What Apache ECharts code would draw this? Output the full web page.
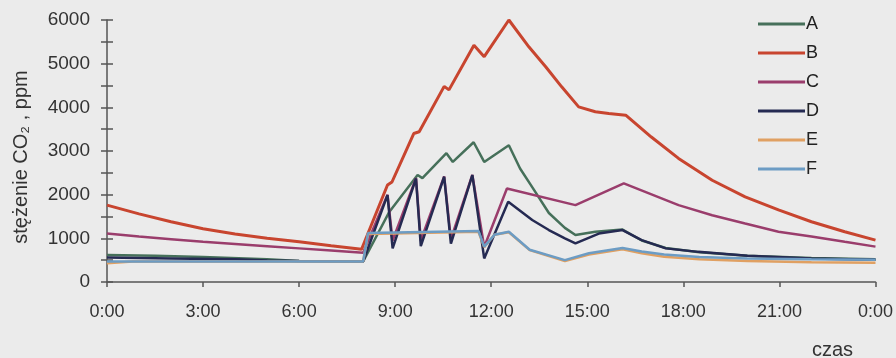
<!DOCTYPE html>
<html><head><meta charset="utf-8">
<script src="https://cdn.jsdelivr.net/npm/echarts@6/dist/echarts.min.js"></script>
<style>html,body{margin:0;padding:0;background:#ebebeb}#c{width:896px;height:358px}</style>
</head><body><div id="c"></div>
<script>
const seriesNames = ['A','B','C','D','E','F'];
const xTickLabels = ['0:00','3:00','6:00','9:00','12:00','15:00','18:00','21:00','0:00'];
const yTickValues = [0,1000,2000,3000,4000,5000,6000];
// [hour, ppm]
const A = [[0,620],[1.5,600],[3,570],[5,520],[6,480],[8,470],[8.82,1610],[9.7,2450],[9.85,2380],[10.6,2950],[10.8,2750],[11.45,3200],[11.78,2750],[12.55,3130],[12.9,2600],[13.3,2150],[13.8,1580],[14.3,1240],[14.63,1075],[15.25,1150],[16.1,1200],[16.7,950],[17.45,780],[18.5,680],[20,600],[22,550],[24,520]];
const B = [[0,1760],[1,1560],[2,1380],[3,1220],[4,1100],[5,1000],[6,920],[7,830],[7.95,750],[8.76,2220],[8.9,2290],[9.58,3400],[9.75,3440],[10.53,4480],[10.68,4400],[11.46,5420],[11.78,5160],[12.55,6000],[13.18,5380],[13.7,4930],[14.2,4470],[14.73,4010],[15.25,3900],[15.67,3860],[16.2,3820],[17.0,3320],[17.85,2830],[18.9,2330],[19.93,1950],[20.97,1650],[22,1380],[23.04,1150],[24,960]];
const C = [[0,1110],[1,1040],[2,980],[3,920],[4,870],[5,820],[6,770],[7,720],[8,670],[8.76,2000],[8.92,950],[9.65,2380],[9.8,950],[10.53,2420],[10.74,980],[11.41,2450],[11.78,800],[12.49,2140],[14.63,1760],[16.14,2260],[17.85,1760],[18.9,1530],[19.93,1340],[20.97,1150],[22,1040],[23.04,920],[24,810]];
const D = [[0,560],[2,540],[4,520],[5,490],[6,480],[8,470],[8.76,1990],[8.92,770],[9.65,2370],[9.8,820],[10.53,2410],[10.74,880],[11.41,2450],[11.78,540],[12.53,1840],[13.28,1420],[13.8,1190],[14.3,1000],[14.63,885],[15.36,1110],[16.1,1190],[16.7,960],[17.45,770],[18.47,690],[20,600],[22,540],[24,510]];
const E = [[0,430],[0.8,470],[8,470],[8.15,1100],[11.6,1150],[11.78,800],[12.1,1080],[12.55,1140],[13.2,730],[14.3,480],[15.05,630],[16.1,750],[16.7,660],[17.4,580],[18.5,520],[20,480],[22,450],[24,440]];
const F = [[0,470],[8,470],[8.15,1120],[11.6,1170],[11.78,810],[12.1,1080],[12.55,1150],[13.2,740],[14.3,500],[15.05,660],[16.1,780],[16.7,700],[17.4,630],[18.5,570],[20,540],[22,520],[24,510]];

const data = [A,B,C,D,E,F];
const colors = ['#46705a','#c8452f','#9a3d6c','#252a52','#e0a062','#6c9cc4'];
const widths = [2.5,3,2.5,2.5,2.5,2.5];

const chart = echarts.init(document.getElementById('c'), null, {renderer:'canvas'});
const font = 'Arial, "Liberation Sans", sans-serif';
chart.setOption({
  backgroundColor:'#ebebeb',
  animation:false,
  grid:{left:107,right:19,top:20,bottom:76},
  legend:{
    orient:'vertical', left:753, top:10, itemWidth:47, itemHeight:3, itemGap:11,
    icon:'rect',
    textStyle:{fontSize:18,fontFamily:font,color:'#222',padding:[0,0,0,-4]},
    data:seriesNames
  },
  xAxis:{
    type:'value', min:0, max:24, interval:3,
    axisLine:{lineStyle:{color:'#555',width:1.5}},
    axisTick:{show:true,length:5,lineStyle:{color:'#555',width:1.5}},
    splitLine:{show:false},
    axisLabel:{margin:21,fontSize:18,fontFamily:font,color:'#333',
      formatter:(v)=>xTickLabels[Math.round(v/3)]}
  },
  yAxis:[{
    type:'value', min:0, max:6000, interval:1000,
    name:'stężenie CO₂ , ppm', nameLocation:'middle', nameGap:76, nameRotate:90,
    nameTextStyle:{fontSize:20,fontFamily:font,color:'#333',padding:[0,12,0,0]},
    axisLine:{show:true,lineStyle:{color:'#555',width:1.5}},
    axisTick:{show:true,length:6,lineStyle:{color:'#555',width:1.5}},
    minorTick:{show:true,splitNumber:2,length:6,lineStyle:{color:'#555',width:1.5}},
    splitLine:{show:false},
    axisLabel:{margin:17,fontSize:19,fontFamily:font,color:'#333',
      formatter:(v)=>String(yTickValues[Math.round(v/1000)])}
  },{
    type:'value', min:0, max:6000, interval:1000, position:'left',
    axisLine:{show:false},
    axisTick:{show:true,inside:true,length:6,lineStyle:{color:'#555',width:1.5}},
    minorTick:{show:true,splitNumber:2,length:6,lineStyle:{color:'#555',width:1.5}},
    axisLabel:{show:false}, splitLine:{show:false}
  }],
  graphic:[{type:'text',left:812,top:340,style:{text:'czas',fontSize:20,fontFamily:font,fill:'#333'}}],
  series: seriesNames.map((n,i)=>({
    name:n, type:'line', data:data[i], symbol:'none', smooth:false,
    itemStyle:{color:colors[i]},
    lineStyle:{color:colors[i],width:widths[i]}
  }))
});
</script></body></html>
